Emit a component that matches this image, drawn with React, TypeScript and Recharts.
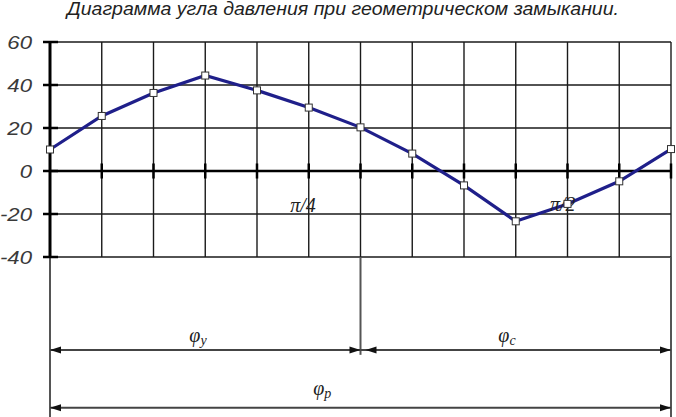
import React from 'react';
import { LineChart, Line, XAxis, YAxis, CartesianGrid, ReferenceLine, ReferenceDot } from 'recharts';

const positions = [0, 1, 2, 3, 4, 5, 6, 7, 8, 9, 10, 11, 12];
const pressureAngle = [10, 25.6, 36.3, 44.4, 37.5, 29.5, 20.3, 8.1, -6.7, -23.4, -15.3, -4.8, 10.2];
const yTicks = [-40, -20, 0, 20, 40, 60];
const title = 'Диаграмма угла давления при геометрическом замыкании.';
const angleMarks = [
  { text: 'π/4', x: 4.89, y: -16.5 },
  { text: 'π/2', x: 9.91, y: -16 },
];
const phaseBounds = [
  { x: 0, bottom: -116 },
  { x: 6, bottom: -85.5 },
  { x: 12, bottom: -116 },
];
const spans = [
  { from: 0, to: 6, y: -83.2, gapStart: false },
  { from: 6, to: 12, y: -83.2, gapStart: true },
  { from: 0, to: 12, y: -110.1, gapStart: false },
];
const spanLabels = [
  { sym: 'φ', sub: 'у', x: 2.86, y: -77.4 },
  { sym: 'φ', sub: 'с', x: 8.83, y: -77.4 },
  { sym: 'φ', sub: 'р', x: 5.26, y: -101.8 },
];

const data = positions.map((p, i) => ({ pos: p, angle: pressureAngle[i] }));

const SquareDot = (props: any) => {
  const { cx, cy } = props;
  if (cx == null || cy == null) return null;
  return <rect x={cx - 3.5} y={cy - 3.5} width={7} height={7} fill="#fff" stroke="#333" strokeWidth={1} />;
};

const YTick = (props: any) => {
  const { x, y, payload } = props;
  return (
    <g>
      <line x1={x - 7} x2={x + 8} y1={y} y2={y} stroke="#000" strokeWidth={2.5} />
      <text
        transform={`translate(${x - 18},${y + 6.5}) scale(1.2,1)`}
        textAnchor="end"
        fontFamily="'Liberation Sans', Arial, sans-serif"
        fontStyle="italic"
        fontSize={18.5}
        fill="#3a3a3a"
      >
        {payload.value}
      </text>
    </g>
  );
};

const makeArrow = (gapStart: boolean) => (p: any) => {
  const { x1, y1, x2, y2 } = p;
  const sx = gapStart ? x1 + 5 : x1;
  const len = 11;
  const half = 3.5;
  return (
    <g>
      <line x1={x1} y1={y1} x2={x2} y2={y2} stroke="#444" strokeWidth={2} />
      <polygon points={`${sx},${y1} ${sx + len},${y1 - half} ${sx + len},${y1 + half}`} fill="#111" />
      <polygon points={`${x2},${y2} ${x2 - len},${y2 - half} ${x2 - len},${y2 + half}`} fill="#111" />
    </g>
  );
};

export default function App() {
  return (
    <div style={{ position: 'absolute', left: 0, top: 0, width: 676, height: 417, background: '#fff' }}>
      <LineChart width={676} height={417} data={data} margin={{ top: 42, right: 5, bottom: 160, left: 0 }}>
        <CartesianGrid vertical={false} stroke="#1a1a1a" strokeWidth={1.4} />
        <XAxis dataKey="pos" type="number" domain={[0, 12]} ticks={positions} hide />
        <YAxis
          domain={[-40, 60]}
          ticks={yTicks}
          interval={0}
          width={50}
          tickSize={0}
          tickMargin={0}
          tickLine={false}
          axisLine={{ stroke: '#000', strokeWidth: 3 }}
          tick={<YTick />}
        />
        {positions.map((p) => (
          <ReferenceLine key={`v${p}`} x={p} stroke="#1a1a1a" strokeWidth={1.4} />
        ))}
        {phaseBounds.map((b) => (
          <ReferenceLine
            key={`b${b.x}`}
            segment={[{ x: b.x, y: -40 }, { x: b.x, y: b.bottom }]}
            stroke="#555"
            strokeWidth={2}
            ifOverflow="visible"
          />
        ))}
        <ReferenceLine y={0} stroke="#000" strokeWidth={2.5} />
        {positions.filter((p) => p > 0).map((p) => (
          <ReferenceLine
            key={`t${p}`}
            segment={[{ x: p, y: -3.5 }, { x: p, y: 3.5 }]}
            stroke="#000"
            strokeWidth={2.5}
            ifOverflow="visible"
          />
        ))}
        {spans.map((s, i) => (
          <ReferenceLine
            key={`s${i}`}
            segment={[{ x: s.from, y: s.y }, { x: s.to, y: s.y }]}
            ifOverflow="visible"
            shape={makeArrow(s.gapStart)}
          />
        ))}
        {angleMarks.map((m) => (
          <ReferenceDot
            key={m.text}
            x={m.x}
            y={m.y}
            r={0}
            ifOverflow="visible"
            shape={(p: any) => (
              <text
                x={p.cx}
                y={p.cy + 6}
                textAnchor="middle"
                fontFamily="'Liberation Serif', 'Times New Roman', serif"
                fontStyle="italic"
                fontSize={20}
                fill="#222"
              >
                {m.text}
              </text>
            )}
          />
        ))}
        {spanLabels.map((l, i) => (
          <ReferenceDot
            key={`l${i}`}
            x={l.x}
            y={l.y}
            r={0}
            ifOverflow="visible"
            shape={(p: any) => (
              <text
                x={p.cx}
                y={p.cy + 5}
                textAnchor="middle"
                fontFamily="'Liberation Serif', 'Times New Roman', serif"
                fontStyle="italic"
                fontSize={20}
                fill="#222"
              >
                {l.sym}
                <tspan fontSize={14} dy={3}>{l.sub}</tspan>
              </text>
            )}
          />
        ))}
        <Line
          type="linear"
          dataKey="angle"
          stroke="#1f1f8a"
          strokeWidth={3.2}
          dot={<SquareDot />}
          activeDot={false}
          isAnimationActive={false}
        />
      </LineChart>
      <svg width={676} height={30} style={{ position: 'absolute', left: 0, top: 0, pointerEvents: 'none' }}>
        <text
          x={67}
          y={15}
          fontFamily="'Liberation Sans', Arial, sans-serif"
          fontStyle="italic"
          fontSize={18}
          fill="#222"
          textLength={552}
          lengthAdjust="spacingAndGlyphs"
        >
          {title}
        </text>
      </svg>
    </div>
  );
}
